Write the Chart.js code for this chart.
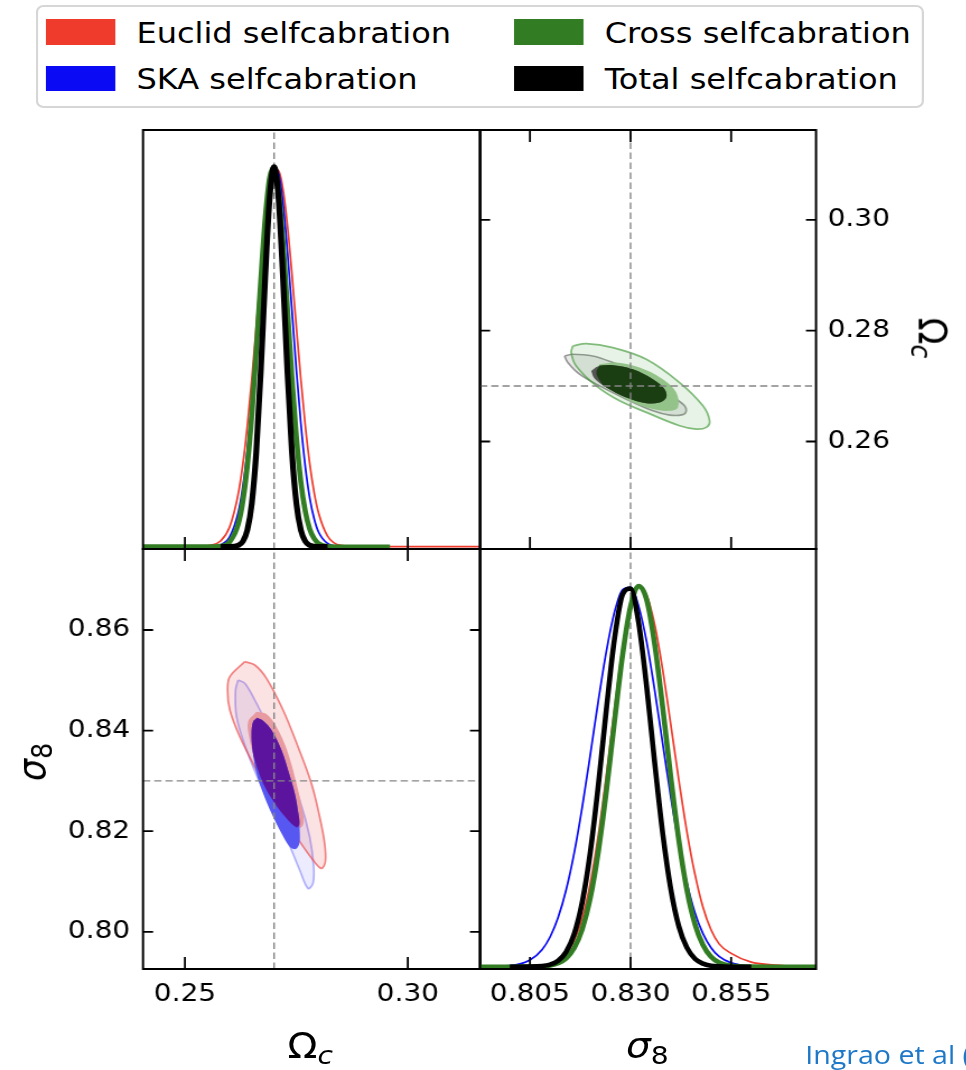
<!DOCTYPE html>
<html lang="en"><head><meta charset="utf-8"><title>Corner plot</title>
<script src="https://cdn.jsdelivr.net/npm/chart.js"></script>
<style>
html,body{margin:0;padding:0;background:#fff;}
body{width:966px;height:1070px;overflow:hidden;position:relative;}
#wrap{position:absolute;left:0;top:0;width:863px;height:1070px;transform:scaleX(1.12);transform-origin:0 0;}
#wrap canvas{position:absolute;left:0;top:0;width:863px;height:1070px;}
.t{position:absolute;font-family:"DejaVu Sans",sans-serif;color:#000;white-space:nowrap;}
.sub{font-size:0.72em;position:relative;top:0.22em;}
#legend{position:absolute;left:32px;top:5px;width:789px;height:99px;border:2px solid #d6d6d6;border-radius:7px;background:#fff;}
.patch{position:absolute;width:61.6px;height:25.6px;}
.ltxt{position:absolute;font-family:"DejaVu Sans",sans-serif;font-size:28.6px;line-height:28px;white-space:nowrap;color:#000;}
#credit{position:absolute;left:719px;top:1039px;font-family:"Open Sans",sans-serif;font-size:25.5px;line-height:30px;color:#1e78c8;white-space:nowrap;}
</style></head>
<body>
<div id="wrap">
<canvas id="ctl" width="863" height="1070"></canvas>
<canvas id="ctr" width="863" height="1070"></canvas>
<canvas id="cbl" width="863" height="1070"></canvas>
<canvas id="cbr" width="863" height="1070"></canvas>
<div id="legend"></div>
<div class="t" style="left:277px;top:1029px;font-size:35px;line-height:35px;transform:translateX(-50%);">Ω<span class="sub"><i>c</i></span></div>
<div class="t" style="left:578px;top:1029px;font-size:35px;line-height:35px;transform:translateX(-50%);"><i>σ</i><span class="sub">8</span></div>
<div class="t" style="left:30px;top:762px;font-size:35px;line-height:35px;transform:translate(-50%,-50%) rotate(-90deg);"><i>σ</i><span class="sub">8</span></div>
<div class="t" style="left:830px;top:338px;font-size:35px;line-height:35px;transform:translate(-50%,-50%) rotate(90deg);">Ω<span class="sub"><i>c</i></span></div>
<div id="credit">Ingrao et al (</div>
</div>
<script>
// ---------------- data ----------------
const seriesNames = ['Euclid selfcabration', 'SKA selfcabration', 'Cross selfcabration', 'Total selfcabration'];
const seriesColors = ['#ef3b2c', '#0a0af5', '#327d23', '#000000'];

const omegaRange = [0.2406, 0.3162];
const sigmaRange = [0.7926, 0.8761];
const pdfRange = [-0.006, 1.097];
const fidOmega = 0.27;
const fidSigma = 0.83;

const omegaTicksBottom = [0.25, 0.30];
const omegaTicksRight = [0.26, 0.28, 0.30];
const sigmaTicksLeft = [0.80, 0.82, 0.84, 0.86];
const sigmaTicksBottom = [0.805, 0.830, 0.855];

// 1D marginal of Omega_c (null = curve not drawn there)
const omegaGrid   = [0.2406, 0.250, 0.255, 0.258, 0.260, 0.262, 0.263, 0.264, 0.265, 0.266, 0.267, 0.268, 0.269, 0.270, 0.271, 0.272, 0.273, 0.274, 0.275, 0.276, 0.277, 0.278, 0.279, 0.280, 0.282, 0.285, 0.290, 0.296, 0.3162];
const omegaEuclid = [null, null, 0.0015, 0.015, 0.051, 0.142, 0.218, 0.319, 0.441, 0.578, 0.718, 0.845, 0.941, 0.996, 0.990, 0.941, 0.845, 0.718, 0.578, 0.441, 0.319, 0.218, 0.142, 0.088, 0.028, 0.0034, 0.0006, 0.0004, 0.0003];
const omegaSKA    = [null, null, 0.0003, 0.0053, 0.025, 0.092, 0.158, 0.253, 0.378, 0.527, 0.686, 0.833, 0.943, 0.997, 0.983, 0.905, 0.777, 0.623, 0.465, 0.325, 0.211, 0.128, 0.073, 0.038, 0.0087, 0.0005, 0, null, null];
const omegaCross  = [0.0003, 0.0003, 0.0003, 0.0017, 0.012, 0.061, 0.120, 0.213, 0.347, 0.515, 0.698, 0.862, 0.971, 0.998, 0.936, 0.801, 0.625, 0.445, 0.289, 0.171, 0.093, 0.046, 0.021, 0.0084, 0.001, 0, 0, 0, null];
const omegaTotal  = [null, null, null, 0, 0.0002, 0.0039, 0.014, 0.044, 0.114, 0.249, 0.458, 0.707, 0.917, 1.0, 0.917, 0.707, 0.458, 0.249, 0.114, 0.044, 0.014, 0.0039, 0.001, 0.0002, 0, null, null, null, null];

// 1D marginal of sigma_8
const sigmaGrid   = [0.7926, 0.800, 0.805, 0.808, 0.810, 0.812, 0.814, 0.816, 0.818, 0.820, 0.822, 0.824, 0.826, 0.828, 0.830, 0.832, 0.834, 0.836, 0.838, 0.840, 0.842, 0.844, 0.846, 0.848, 0.850, 0.852, 0.855, 0.860, 0.865, 0.870, 0.8761];
const sigmaEuclid = [null, 0.0001, 0.0005, 0.0025, 0.0065, 0.0156, 0.034, 0.069, 0.128, 0.219, 0.346, 0.504, 0.676, 0.835, 0.952, 1.0, 0.976, 0.898, 0.779, 0.636, 0.490, 0.355, 0.243, 0.156, 0.097, 0.060, 0.035, 0.012, 0.005, 0.002, 0.001];
const sigmaSKA    = [0.0001, 0.0027, 0.0174, 0.0446, 0.078, 0.129, 0.202, 0.299, 0.420, 0.557, 0.699, 0.829, 0.931, 0.990, 0.996, 0.947, 0.853, 0.726, 0.585, 0.446, 0.322, 0.220, 0.142, 0.087, 0.050, 0.027, 0.010, 0.0014, 0.0002, null, null];
const sigmaCross  = [0, 0, 0.0002, 0.0012, 0.0035, 0.0093, 0.022, 0.049, 0.099, 0.181, 0.303, 0.462, 0.643, 0.817, 0.946, 1.0, 0.964, 0.847, 0.680, 0.498, 0.332, 0.202, 0.112, 0.057, 0.026, 0.011, 0.0026, 0.0002, 0, 0, 0];
const sigmaTotal  = [null, 0, 0.0003, 0.0018, 0.0057, 0.0157, 0.039, 0.086, 0.170, 0.301, 0.477, 0.677, 0.860, 0.977, 0.993, 0.904, 0.736, 0.536, 0.350, 0.204, 0.106, 0.050, 0.021, 0.008, 0.0026, 0.0008, 0, 0, null, null, null];

// 2D contours, lower-left panel: [Omega_c, sigma_8]
const euclid95 = [[0.26343,0.85370],[0.26007,0.85071],[0.25956,0.84807],[0.26007,0.84409],[0.26231,0.83878],[0.26605,0.83216],[0.27053,0.82486],[0.27501,0.81889],[0.27872,0.81426],[0.28060,0.81261],[0.28150,0.81392],[0.28134,0.81758],[0.28022,0.82287],[0.27836,0.82951],[0.27536,0.83679],[0.27201,0.84409],[0.26829,0.85039],[0.26567,0.85304]];
const ska95 = [[0.26193,0.85006],[0.26135,0.84807],[0.26157,0.84276],[0.26381,0.83613],[0.26753,0.82818],[0.27201,0.82022],[0.27574,0.81227],[0.27760,0.80863],[0.27872,0.80962],[0.27888,0.81292],[0.27798,0.81889],[0.27574,0.82619],[0.27277,0.83281],[0.26903,0.84011],[0.26567,0.84608],[0.26343,0.84940]];
const euclid68 = [[0.26605,0.84375],[0.26417,0.84176],[0.26439,0.83878],[0.26567,0.83414],[0.26753,0.82951],[0.27015,0.82553],[0.27277,0.82255],[0.27501,0.82076],[0.27612,0.82076],[0.27664,0.82187],[0.27635,0.82420],[0.27501,0.82951],[0.27290,0.83613],[0.27053,0.84077],[0.26829,0.84329]];
const ska68 = [[0.26619,0.84256],[0.26753,0.84196],[0.26941,0.84011],[0.27165,0.83613],[0.27335,0.83150],[0.27463,0.82752],[0.27545,0.82354],[0.27574,0.82022],[0.27568,0.81758],[0.27485,0.81644],[0.27351,0.81690],[0.27165,0.81957],[0.26941,0.82354],[0.26753,0.82752],[0.26605,0.83150],[0.26516,0.83613],[0.26493,0.83946],[0.26529,0.84176]];
const euclidSkaCore = [[0.26619,0.84256],[0.26753,0.84196],[0.26941,0.84011],[0.27165,0.83613],[0.27335,0.83150],[0.27463,0.82752],[0.27545,0.82354],[0.27570,0.82142],[0.27501,0.82076],[0.27277,0.82255],[0.27015,0.82553],[0.26753,0.82951],[0.26567,0.83414],[0.26516,0.83613],[0.26493,0.83946],[0.26529,0.84176]];

// 2D contours, upper-right panel: [sigma_8, Omega_c]
const cross95 = [[0.81565,0.27723],[0.81898,0.27766],[0.82560,0.27694],[0.83391,0.27484],[0.84219,0.27064],[0.84799,0.26643],[0.84965,0.26374],[0.84883,0.26255],[0.84634,0.26224],[0.84219,0.26284],[0.83391,0.26525],[0.82726,0.26733],[0.82147,0.27003],[0.81649,0.27363],[0.81525,0.27604]];
const total95 = [[0.81358,0.27543],[0.81565,0.27574],[0.82062,0.27543],[0.82560,0.27424],[0.83057,0.27268],[0.83639,0.27003],[0.84137,0.26764],[0.84343,0.26643],[0.84386,0.26553],[0.84301,0.26485],[0.83970,0.26476],[0.83555,0.26553],[0.82893,0.26764],[0.82229,0.27003],[0.81731,0.27214],[0.81440,0.27424]];
const cross68 = [[0.82229,0.27394],[0.82644,0.27424],[0.83224,0.27334],[0.83803,0.27124],[0.84137,0.26884],[0.84177,0.26615],[0.83970,0.26553],[0.83555,0.26584],[0.82893,0.26764],[0.82311,0.27064],[0.82104,0.27244]];
const total68 = [[0.82022,0.27273],[0.82187,0.27352],[0.82560,0.27376],[0.83057,0.27304],[0.83555,0.27124],[0.83846,0.26944],[0.83888,0.26795],[0.83721,0.26705],[0.83391,0.26692],[0.82893,0.26795],[0.82396,0.26974],[0.82104,0.27136]];
const crossTotalCore = [[0.82229,0.27370],[0.82560,0.27376],[0.83057,0.27304],[0.83555,0.27124],[0.83846,0.26944],[0.83888,0.26795],[0.83721,0.26705],[0.83391,0.26692],[0.82893,0.26795],[0.82396,0.26974],[0.82250,0.27080],[0.82150,0.27240]];

// ---------------- helpers ----------------
const W = 863, H = 1070;
const PX = {l: 127.7, m: 428.6, r: 728.6, t: 130, mid: 549, b: 969};
const xy = (xs, ys) => xs.map((x, i) => ({x, y: ys[i]})).filter(p => p.y !== null);
const pts = arr => arr.map(p => ({x: p[0], y: p[1]}));
const closed = arr => pts(arr.concat([arr[0]]));
const TICKFONT = {family: 'DejaVu Sans', size: 25};
const LABEL_BOX_X = 60, LABEL_BOX_Y = 100;

const framePlugin = {
  id: 'frame',
  afterDatasetsDraw(chart, args, o) {
    const {ctx, chartArea: a, scales} = chart;
    const x = scales.x, y = scales.y;
    ctx.save();
    ctx.strokeStyle = '#000';
    ctx.lineWidth = 1.8;
    const tv = 12, th = 9;
    ctx.beginPath();
    (o.xt || []).forEach(v => {
      const p = x.getPixelForValue(v);
      if (o.bottom) { ctx.moveTo(p, a.bottom); ctx.lineTo(p, a.bottom - tv); }
      if (o.top) { ctx.moveTo(p, a.top); ctx.lineTo(p, a.top + tv); }
    });
    (o.yt || []).forEach(v => {
      const p = y.getPixelForValue(v);
      if (o.left) { ctx.moveTo(a.left, p); ctx.lineTo(a.left + th, p); }
      if (o.right) { ctx.moveTo(a.right, p); ctx.lineTo(a.right - th, p); }
    });
    ctx.stroke();
    ctx.lineWidth = 2;
    ctx.strokeRect(a.left, a.top, a.right - a.left, a.bottom - a.top);
    ctx.restore();
  }
};

function axis(c, horiz) {
  const size = c.labels ? (horiz ? LABEL_BOX_X : LABEL_BOX_Y) : 0;
  return {
    type: 'linear', position: c.position, min: c.range[0], max: c.range[1],
    grid: {display: false, drawTicks: false}, border: {display: false},
    ticks: {display: !!c.labels, padding: c.padding || 0, font: TICKFONT, color: '#000',
            callback: v => Number(v).toFixed(c.dec || 2)},
    afterBuildTicks: s => { s.ticks = c.ticks.map(v => ({value: v})); },
    afterFit: s => { if (horiz) s.height = size; else s.width = size; }
  };
}

function makeChart(id, box, xc, yc, datasets, frame) {
  const n = datasets.length;
  const xs = xc.labels ? LABEL_BOX_X : 0, ys = yc.labels ? LABEL_BOX_Y : 0;
  return new Chart(document.getElementById(id), {
    type: 'scatter',
    data: {datasets: datasets.map((d, i) => Object.assign({
      order: n - i, pointRadius: 0, pointHoverRadius: 0, showLine: true, fill: false
    }, d))},
    options: {
      responsive: false, animation: false, events: [], devicePixelRatio: 1,
      layout: {autoPadding: false, padding: {
        left: box.l - (yc.position === 'left' ? ys : 0),
        right: W - box.r - (yc.position === 'right' ? ys : 0),
        top: box.t,
        bottom: H - box.b - xs}},
      plugins: {legend: {display: false}, tooltip: {enabled: false}, frame: frame},
      scales: {x: axis(xc, true), y: axis(yc, false)}
    },
    plugins: [framePlugin]
  });
}

const dash = (data) => ({data: pts(data), borderColor: '#858585', borderWidth: 1.4, borderDash: [6.5, 3.5]});
const curve = (xs, ys, color, w) => ({data: xy(xs, ys), borderColor: color, borderWidth: w, cubicInterpolationMode: 'monotone'});
const region = (arr, fillColor, lineColor, w) => ({data: closed(arr), fill: 'shape', backgroundColor: fillColor,
  borderColor: lineColor || 'rgba(0,0,0,0)', borderWidth: w || 1, tension: 0.35});

// ---------------- top-left: Omega_c marginal ----------------
makeChart('ctl', {l: PX.l, r: PX.m, t: PX.t, b: PX.mid},
  {position: 'bottom', range: omegaRange, ticks: omegaTicksBottom},
  {position: 'left', range: pdfRange, ticks: [0]},
  [
    dash([[fidOmega, pdfRange[0]], [fidOmega, pdfRange[1]]]),
    curve(omegaGrid, omegaEuclid, seriesColors[0], 1.7),
    curve(omegaGrid, omegaSKA, seriesColors[1], 1.7),
    curve(omegaGrid, omegaCross, seriesColors[2], 4.6),
    curve(omegaGrid, omegaTotal, seriesColors[3], 5.2)
  ],
  {xt: omegaTicksBottom, bottom: true});

// ---------------- top-right: sigma_8 vs Omega_c ----------------
makeChart('ctr', {l: PX.m, r: PX.r, t: PX.t, b: PX.mid},
  {position: 'bottom', range: sigmaRange, ticks: sigmaTicksBottom, dec: 3},
  {position: 'right', range: omegaRange, ticks: omegaTicksRight, labels: true, padding: 10.3},
  [
    region(total95, 'rgba(0,0,0,0.09)', 'rgba(0,0,0,0.38)', 1.7),
    region(cross95, 'rgba(70,160,60,0.13)', 'rgba(60,150,50,0.62)', 1.7),
    region(cross68, '#93c389'),
    region(total68, '#555555'),
    region(crossTotalCore, '#1b3d12'),
    dash([[fidSigma, omegaRange[0]], [fidSigma, omegaRange[1]]]),
    dash([[sigmaRange[0], fidOmega], [sigmaRange[1], fidOmega]])
  ],
  {xt: sigmaTicksBottom, yt: omegaTicksRight, bottom: true, top: true, left: true, right: true});

// ---------------- bottom-left: Omega_c vs sigma_8 ----------------
makeChart('cbl', {l: PX.l, r: PX.m, t: PX.mid, b: PX.b},
  {position: 'bottom', range: omegaRange, ticks: omegaTicksBottom, labels: true, padding: 10},
  {position: 'left', range: sigmaRange, ticks: sigmaTicksLeft, labels: true, padding: 11.5},
  [
    region(ska95, 'rgba(110,110,250,0.13)', 'rgba(90,90,250,0.45)', 1.7),
    region(euclid95, 'rgba(235,80,80,0.16)', 'rgba(235,70,70,0.65)', 1.7),
    region(euclid68, '#e79aa0'),
    region(ska68, '#5757f2'),
    region(euclidSkaCore, '#5c149e'),
    dash([[fidOmega, sigmaRange[0]], [fidOmega, sigmaRange[1]]]),
    dash([[omegaRange[0], fidSigma], [omegaRange[1], fidSigma]])
  ],
  {xt: omegaTicksBottom, yt: sigmaTicksLeft, bottom: true, top: true, left: true, right: true});

// ---------------- bottom-right: sigma_8 marginal ----------------
makeChart('cbr', {l: PX.m, r: PX.r, t: PX.mid, b: PX.b},
  {position: 'bottom', range: sigmaRange, ticks: sigmaTicksBottom, labels: true, padding: 10, dec: 3},
  {position: 'left', range: pdfRange, ticks: [0]},
  [
    dash([[fidSigma, pdfRange[0]], [fidSigma, pdfRange[1]]]),
    curve(sigmaGrid, sigmaEuclid, seriesColors[0], 1.7),
    curve(sigmaGrid, sigmaSKA, seriesColors[1], 1.7),
    curve(sigmaGrid, sigmaCross, seriesColors[2], 4.6),
    curve(sigmaGrid, sigmaTotal, seriesColors[3], 4.6)
  ],
  {xt: sigmaTicksBottom, bottom: true});

// ---------------- legend ----------------
(function buildLegend() {
  const wrap = document.getElementById('wrap');
  const colLeft = [41.3, 459.4], rowTop = [19.4, 65.8];
  seriesNames.forEach((name, i) => {
    const c = Math.floor(i / 2), r = i % 2;
    const p = document.createElement('div');
    p.className = 'patch';
    p.style.left = colLeft[c] + 'px'; p.style.top = rowTop[r] + 'px';
    p.style.background = seriesColors[i];
    wrap.appendChild(p);
    const t = document.createElement('div');
    t.className = 'ltxt';
    t.style.left = (colLeft[c] + 80.5) + 'px'; t.style.top = (rowTop[r] - 0.4) + 'px';
    t.textContent = name;
    wrap.appendChild(t);
  });
})();
</script>
</body></html>
